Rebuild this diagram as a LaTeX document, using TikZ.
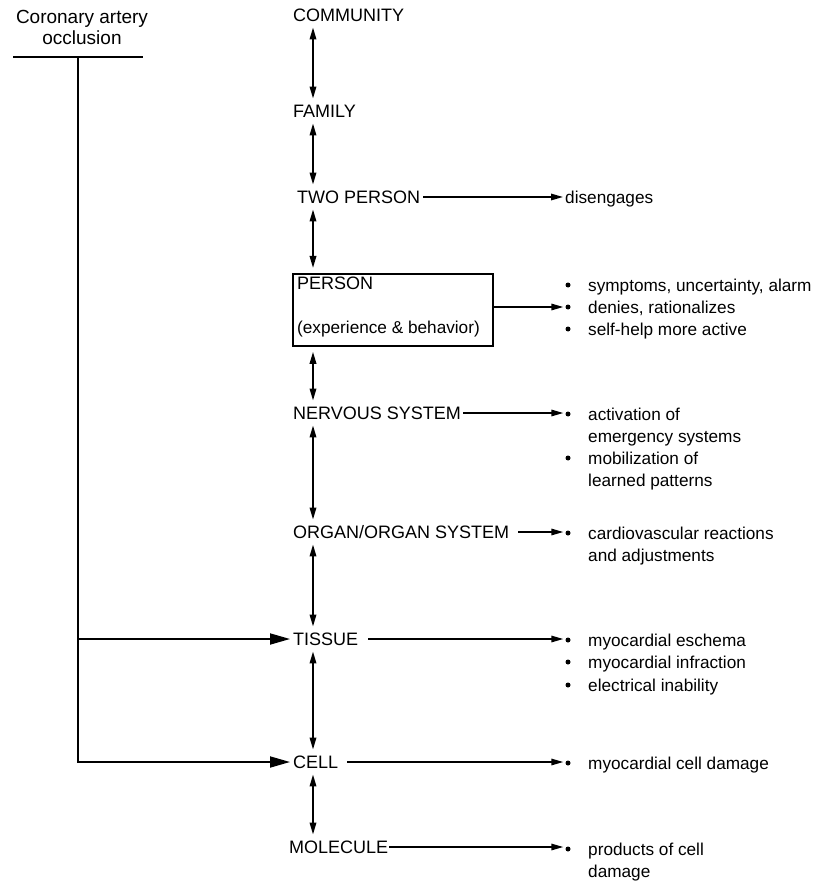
\documentclass[tikz,border=0pt]{standalone}
\usepackage{fontspec}
\setmainfont{Liberation Sans}
\usetikzlibrary{arrows.meta}
\begin{document}
\begin{tikzpicture}[x=1pt,y=-1pt,
  lvl/.style={anchor=west, inner xsep=0pt, inner ysep=6pt, text height=12.5pt, text depth=0pt, font=\fontsize{18}{22}\selectfont},
  item/.style={anchor=west, inner xsep=0pt, inner ysep=0pt, text height=12pt, text depth=0pt, font=\fontsize{17.2}{22}\selectfont},
  toptext/.style={anchor=center, inner sep=0pt, text height=13pt, text depth=0pt, font=\fontsize{19}{22}\selectfont},
  dot/.style={circle, fill, inner sep=0pt, minimum size=5pt},
  vlink/.style={{Triangle[length=12pt,width=6.5pt]}-{Triangle[length=12pt,width=6.5pt]}, line width=1.8pt},
  hlink/.style={-{Triangle[length=12pt,width=6.5pt]}, line width=1.5pt, shorten >=2pt},
  feed/.style={-{Triangle[length=20pt,width=11pt]}, line width=1.8pt, shorten >=3pt},
  bar/.style={line width=1.8pt},
  frame/.style={draw, line width=1.8pt, minimum width=200pt, minimum height=72pt, inner sep=0pt, anchor=north west},
]
\useasboundingbox (0,0) rectangle (819,882);

% top-left source
\node[toptext] (cao1) at (82,17) {Coronary artery};
\node[toptext] (cao2) at (82,38) {occlusion};
\coordinate (barL) at (13,57);
\coordinate (barR) at (143,57);
\coordinate (trunk) at (78,57);
\draw[bar] (barL) -- (barR);

% axis of the column
\coordinate (ax) at (313,0);

% levels
\node[lvl] (comm) at (293,15) {COMMUNITY};
\node[lvl] (fam) at (293,111) {FAMILY};
\node[lvl] (two) at (297,197) {TWO PERSON};
\node[frame] (person) at (292,273) {};
\node[lvl] (pers) at (297,283) {PERSON};
\node[item] (persexp) at (297,327) {(experience \& behavior)};
\node[lvl] (nerv) at (293,413) {NERVOUS SYSTEM};
\node[lvl] (organ) at (293,532) {ORGAN/ORGAN SYSTEM};
\node[lvl] (tissue) at (293,639) {TISSUE};
\node[lvl] (cell) at (293,762) {CELL};
\node[lvl] (mol) at (289,847) {MOLECULE};

% vertical links
\draw[vlink] (comm.south -| ax) -- (fam.north -| ax);
\draw[vlink] (fam.south -| ax) -- (two.north -| ax);
\draw[vlink, shorten >=5pt] (two.south -| ax) -- (person.north -| ax);
\draw[vlink, shorten <=5pt] (person.south -| ax) -- (nerv.north -| ax);
\draw[vlink] (nerv.south -| ax) -- (organ.north -| ax);
\draw[vlink] (organ.south -| ax) -- (tissue.north -| ax);
\draw[vlink] (tissue.south -| ax) -- (cell.north -| ax);
\draw[vlink] (cell.south -| ax) -- (mol.north -| ax);

% feeds from the occlusion
\draw[feed] (trunk) |- (cell.west);
\draw[feed] (trunk |- tissue.west) -- (tissue.west);

% right-hand effects
\node[item] (dis) at (565,198) {disengages};

\node[dot] (pb1) at (568,285) {};
\node[dot] (pb2) at (568,307) {};
\node[dot] (pb3) at (568,329) {};
\node[item] (pt1) at (588,285) {symptoms, uncertainty, alarm};
\node[item] (pt2) at (588,307) {denies, rationalizes};
\node[item] (pt3) at (588,329) {self-help more active};

\node[dot] (nb1) at (568,414) {};
\node[dot] (nb2) at (568,458) {};
\node[item] (nt1) at (588,414) {activation of};
\node[item] (nt2) at (588,436) {emergency systems};
\node[item] (nt3) at (588,458) {mobilization of};
\node[item] (nt4) at (588,480) {learned patterns};

\node[dot] (ob1) at (568,533) {};
\node[item] (ot1) at (588,533) {cardiovascular reactions};
\node[item] (ot2) at (588,555) {and adjustments};

\node[dot] (tb1) at (568,640) {};
\node[dot] (tb2) at (568,662) {};
\node[dot] (tb3) at (568,685) {};
\node[item] (tt1) at (588,640) {myocardial eschema};
\node[item] (tt2) at (588,662) {myocardial infraction};
\node[item] (tt3) at (588,685) {electrical inability};

\node[dot] (cb1) at (568,763) {};
\node[item] (ct1) at (588,763) {myocardial cell damage};

\node[dot] (mb1) at (568,849) {};
\node[item] (mt1) at (588,849) {products of cell};
\node[item] (mt2) at (588,871) {damage};

% horizontal links
\draw[hlink, shorten <=3pt] (two.east) -- (two.east -| dis.west);
\draw[hlink] (pb2.west -| person.east) -- (pb2.west);
\draw[hlink, shorten <=2pt] (nerv.east) -- (nerv.east -| nb1.west);
\draw[hlink, shorten <=9pt] (organ.east) -- (organ.east -| ob1.west);
\draw[hlink, shorten <=10pt] (tissue.east) -- (tissue.east -| tb1.west);
\draw[hlink, shorten <=9pt] (cell.east) -- (cell.east -| cb1.west);
\draw[hlink, shorten <=1pt] (mol.east) -- (mol.east -| mb1.west);
\end{tikzpicture}
\end{document}
